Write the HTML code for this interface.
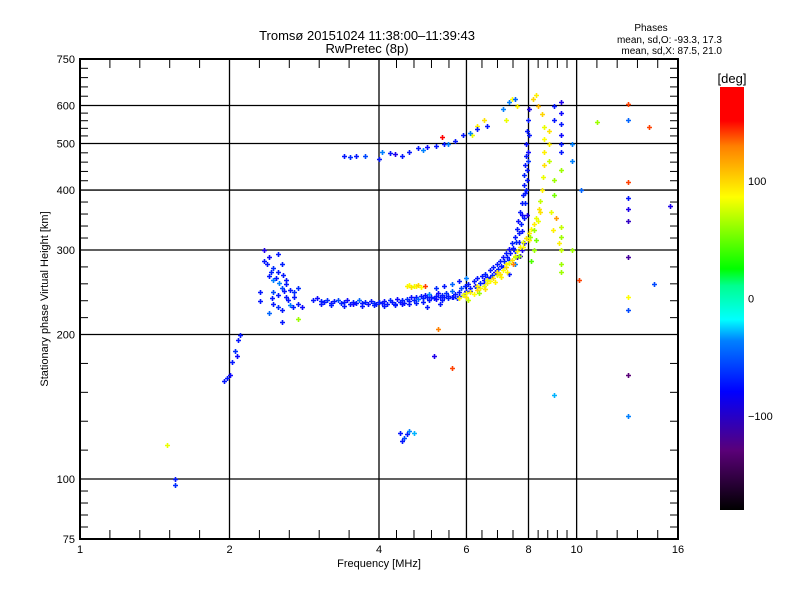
<!DOCTYPE html>
<html><head><meta charset="utf-8"><style>
body{margin:0;background:#fff;}
svg text{font-family:"Liberation Sans",sans-serif;fill:#000;}
</style></head><body>
<svg id="chart" xmlns="http://www.w3.org/2000/svg" width="800" height="600" viewBox="0 0 800 600">
<defs>
<linearGradient id="cmap" x1="0" y1="1" x2="0" y2="0">
<stop offset="0" stop-color="#000000"/>
<stop offset="0.14" stop-color="#5a0078"/>
<stop offset="0.28" stop-color="#0000ff"/>
<stop offset="0.40" stop-color="#0080ff"/>
<stop offset="0.45" stop-color="#00ffff"/>
<stop offset="0.53" stop-color="#00ff90"/>
<stop offset="0.57" stop-color="#00ff00"/>
<stop offset="0.74" stop-color="#ffff00"/>
<stop offset="0.86" stop-color="#ff8000"/>
<stop offset="0.92" stop-color="#ff0000"/>
<stop offset="1" stop-color="#ff0000"/>
</linearGradient>
</defs>
<g id="grid"></g>
<g id="marks"></g>
<rect x="80" y="59" width="598" height="480" fill="none" stroke="#000" stroke-width="2"/>
<g id="axes"></g>
<text x="367" y="40" font-size="13" text-anchor="middle">Tromsø 20151024 11:38:00–11:39:43</text>
<text x="367" y="53" font-size="13" text-anchor="middle">RwPretec (8p)</text>
<text x="651" y="31" font-size="10" text-anchor="middle">Phases</text>
<text x="722" y="43" font-size="10" text-anchor="end">mean, sd,O: -93.3, 17.3</text>
<text x="722" y="54" font-size="10" text-anchor="end">mean, sd,X:  87.5, 21.0</text>
<text x="379" y="567" font-size="11" text-anchor="middle">Frequency [MHz]</text>
<text x="0" y="0" font-size="11" text-anchor="middle" transform="translate(48,299) rotate(-90)">Stationary phase Virtual Height [km]</text>
<rect x="720" y="87" width="24" height="423" fill="url(#cmap)"/>
<text x="732" y="83" font-size="13" text-anchor="middle">[deg]</text>
<g id="cbar"></g>
</svg>
<script>
const xTickLabels=[1,2,4,6,8,10,16];
const xGridValues=[2,4,6,8,10];
const yTickLabels=[75,100,200,300,400,500,600,750];
const yGridValues=[100,200,300,400,500,600];
const cbarLabels=[100,0,-100];
// O-mode trace
const oFreq=[2.95,3.0,3.05,3.1,3.15,3.2,3.25,3.3,3.35,3.4,3.45,3.5,3.55,3.6,3.65,3.7,3.75,3.8,3.85,3.9,3.95,4.0,4.05,4.1,4.15,4.2,4.25,4.3,4.35,4.4,4.45,4.5,4.55,4.6,4.65,4.7,4.75,4.8,4.85,4.9,4.95,5.0,5.05,5.1,5.15,5.2,5.25,5.3,5.35,5.4,5.45,5.5,5.6,5.6,5.7,5.75,5.8,5.85,5.9,5.95,6.0,6.05,6.1,6.2,6.25,6.3,6.4,6.45,6.5,6.55,6.6,6.7,6.75,6.8,6.85,6.9,6.95,7.0,7.05,7.1,7.15,7.2,7.25,7.3,7.35,7.4,7.45,7.5,7.55,7.6,7.62,7.65,7.7,7.72,7.75,7.78,7.8,7.82,7.85,7.87,7.9,7.92,7.95,7.97,8.0,7.98,7.93,7.88,7.75,7.6,5.2,5.4,5.6,5.8,6.0];
const oHeight=[236,238,235,234,236,233,235,236,233,234,236,232,234,233,236,233,234,232,235,233,232,234,233,235,232,236,234,232,237,234,236,233,237,235,240,236,239,237,241,238,242,239,243,240,238,241,244,240,242,239,244,241,239,247,243,238,245,250,242,252,247,255,250,258,252,262,256,265,260,268,263,272,266,276,270,280,274,285,278,290,284,296,290,302,296,310,303,320,312,332,345,325,360,340,375,355,390,410,430,450,470,500,530,560,590,460,420,395,300,290,250,252,255,258,262];
const oPhase=[-100,-110,-95,-100,-90,-105,-100,-80,-95,-100,-110,-100,-95,-100,-70,-100,-95,-105,-100,-90,-100,-95,-100,-105,-100,-90,-100,-95,-110,-100,-95,-100,-90,-100,-105,-95,-100,-70,-100,-95,-105,-100,-60,-100,-95,-100,-110,-100,-95,-100,-90,-100,-105,-70,-100,-95,-100,-80,-100,-95,-100,-100,-95,-100,-110,-100,-90,-100,-105,-95,-100,-100,-90,-100,-110,-100,-95,-100,-100,-105,-95,-100,-100,-110,-100,-95,-100,-100,-90,-100,-105,-100,-100,-95,-100,-110,-100,-100,-95,-100,-100,-105,-100,-100,-120,-90,-100,-100,-120,-130,-90,-100,-70,-100,-60];
// O-mode trace, second echo band (thickening)
const o2Freq=[3.05,3.2,3.4,3.55,3.7,3.9,4.1,4.3,4.45,4.6,4.75,4.9,5.05,5.2,5.35,5.5,5.65,5.8,5.95,6.1,6.3,6.5,6.7,6.9,7.1,7.3,7.5,7.65,7.75,7.82,7.88,7.92,7.96,7.99,8.0,7.95,7.85,7.7,7.5,7.3,5.0,5.3];
const o2Height=[231,230,229,231,229,230,229,230,232,231,233,234,236,237,236,238,240,241,244,246,251,256,262,268,276,286,298,312,328,350,375,400,440,480,520,355,310,292,280,268,228,232];
const o2Phase=[-100,-95,-100,-110,-100,-95,-100,-100,-105,-100,-95,-100,-100,-110,-100,-95,-100,-100,-105,-100,-95,-100,-100,-110,-100,-95,-100,-100,-105,-100,-95,-100,-100,-110,-100,-120,-110,-130,-60,-100,-100,-100];
// X-mode trace
const xFreq=[5.8,5.9,6.0,6.05,6.1,6.2,6.3,6.35,6.4,6.5,6.55,6.6,6.7,6.8,6.85,6.9,7.0,7.05,7.1,7.2,7.25,7.3,7.4,7.45,7.5,7.6,7.65,7.7,7.8,7.9,8.0,8.05,8.1,8.2,8.3,8.4,8.45,8.5,8.55,8.6,8.6,8.6,8.6,8.5,8.35,8.3,8.15,8.2,8.3,8.1,4.55,4.6,4.65,4.7,4.75,4.8,4.85,4.95,6.15,6.3,6.5,7.2,7.4,7.6,6.0,6.3,6.6,6.9,7.2,7.5,7.8,8.0,8.2,8.35,8.45];
const xHeight=[238,242,240,236,245,243,248,244,250,253,249,256,258,262,257,266,268,263,273,276,270,282,286,280,292,298,292,305,312,318,325,320,332,340,350,365,380,400,425,450,480,510,540,575,600,630,620,300,315,285,252,254,251,253,252,254,251,253,520,545,560,560,620,600,244,252,260,270,280,290,305,315,330,345,360];
const xPhase=[90,80,95,70,90,85,100,60,90,80,95,90,85,100,90,80,95,90,85,100,90,80,95,130,90,85,60,90,80,95,90,60,85,90,80,95,70,90,80,95,90,85,80,100,110,90,100,60,50,40,90,85,95,80,90,100,85,140,80,90,95,80,85,90,85,90,80,95,90,70,85,90,60,80,95];
// spread F near 2.5 MHz and low-frequency echoes
const sFreq=[2.35,2.4,2.45,2.5,2.4,2.45,2.5,2.55,2.6,2.55,2.65,2.7,2.6,2.5,2.45,2.5,2.55,2.65,2.7,2.75,2.3,2.3,2.75,2.8,2.4,2.55,2.35,2.6,2.45,2.38,2.42,2.48,2.52,2.58,2.62,2.68,2.44,2.56,1.95,2.0,2.02,2.05,2.08,2.1,2.07,1.98,1.5,1.55,1.55,4.4,4.5,4.55,4.6,4.7,4.45];
const sHeight=[285,290,275,295,265,260,270,280,255,250,248,245,240,242,232,228,225,230,240,250,235,245,232,228,222,212,300,260,245,280,270,262,256,246,236,228,238,266,160,165,175,185,195,200,180,162,118,100,97,125,122,124,126,125,120];
const sPhase=[-100,-110,-90,-100,-100,-60,-100,-95,-100,-80,-100,-90,-100,-100,-100,-90,-100,-60,-100,-90,-100,-100,-100,-110,-70,-100,-120,-100,-80,-100,-95,-100,-60,-100,-100,-95,-100,-100,-100,-110,-100,-90,-100,-100,-110,-100,80,-100,-90,-100,-80,-100,-60,-50,-100];
// upper (second-hop) trace
const uFreq=[3.4,3.5,3.6,3.75,4.0,4.05,4.2,4.3,4.45,4.6,4.8,4.9,5.0,5.2,5.4,5.5,5.7,5.9,6.1,6.3,6.6,7.1,7.3,7.5];
const uHeight=[470,468,472,470,465,480,478,475,470,480,490,485,492,495,500,498,505,520,525,535,545,590,610,620];
const uPhase=[-100,-90,-100,-80,-100,-60,-100,-120,-100,-100,-100,-60,-110,-100,-100,-60,-100,-100,-60,-100,-100,-60,-60,-70];
// scattered echoes
const mFreq=[5.15,5.25,5.6,2.75,10.1,9.0,9.3,9.3,9.3,9.3,9.3,9.3,9.3,9.3,9.3,9.3,9.3,9.3,9.8,9.8,9.8,10.2,11,12.7,12.7,12.7,12.7,12.7,12.7,12.7,12.7,12.7,12.7,12.7,14,14.3,15.4,9.0,9.0,9.0,9.0,8.9,8.95,9.1,9.2,8.8,8.8,8.8,5.35];
const mHeight=[180,205,170,215,260,150,610,580,550,520,500,480,440,300,320,335,280,270,500,460,300,400,555,605,560,415,385,365,345,290,240,225,165,135,540,255,370,420,390,600,560,360,330,350,310,460,500,530,517];
const mPhase=[-120,130,140,60,140,-50,-120,-110,-100,-110,-100,-100,60,70,60,70,60,60,-60,-60,60,-70,60,140,-70,140,-100,-120,-130,-140,85,-80,-150,-60,140,-80,-120,60,50,-100,-100,80,90,120,90,70,90,95,160];

const NS='http://www.w3.org/2000/svg';
const X0=80,X1=678,Y0=59,Y1=539;
function xs(f){return X0+(X1-X0)*Math.log2(f)/4;}
function ys(h){return Y1-(Y1-Y0)*Math.log10(h/75);}
function mk(tag,attrs,parent){const e=document.createElementNS(NS,tag);for(const k in attrs)e.setAttribute(k,attrs[k]);parent.appendChild(e);return e;}
const cstops=[[-180,0,0,0],[-150,90,0,120],[-115,20,0,255],[-95,0,30,255],[-60,0,128,255],[-35,0,255,255],[0,0,255,144],[20,0,255,0],[85,255,255,0],[130,255,128,0],[150,255,0,0],[180,255,0,0]];
function color(p){for(let i=1;i<cstops.length;i++){if(p<=cstops[i][0]){const a=cstops[i-1],b=cstops[i];const t=(p-a[0])/(b[0]-a[0]);return 'rgb('+[1,2,3].map(j=>Math.round(a[j]+(b[j]-a[j])*t)).join(',')+')';}}return 'rgb(255,0,0)';}
const grid=document.getElementById('grid'),axes=document.getElementById('axes'),marks=document.getElementById('marks'),cbar=document.getElementById('cbar');
xGridValues.forEach(v=>{const l=mk('line',{x1:xs(v),x2:xs(v),y1:Y0,y2:Y1,stroke:'#000','stroke-width':1.3},grid);

});
yGridValues.forEach(v=>{const l=mk('line',{x1:X0,x2:X1,y1:ys(v),y2:ys(v),stroke:'#000','stroke-width':1.3},grid);

});
xTickLabels.forEach(v=>{const t=mk('text',{x:xs(v),y:553,'font-size':11,'text-anchor':'middle'},axes);t.textContent=v;

});
yTickLabels.forEach(v=>{const t=mk('text',{x:75,y:ys(v)+4,'font-size':11,'text-anchor':'end'},axes);t.textContent=v;

});
const xDiv=[[1,2,5],[2,4,5],[4,6,5],[6,8,4],[8,10,5],[10,16,5]];
xDiv.forEach(([a,b,n])=>{const pa=xs(a),pb=xs(b);for(let i=1;i<n;i++){const x=pa+(pb-pa)*i/n;
mk('line',{x1:x,x2:x,y1:Y1,y2:Y1-9,stroke:'#000','stroke-width':1},axes);
mk('line',{x1:x,x2:x,y1:Y0,y2:Y0+9,stroke:'#000','stroke-width':1},axes);}});
const yDiv=[[75,100,5],[100,200,5],[200,300,5],[300,400,5],[400,500,5],[500,600,5],[600,750,5]];
yDiv.forEach(([a,b,n])=>{const pa=ys(a),pb=ys(b);for(let i=1;i<n;i++){const y=pa+(pb-pa)*i/n;
mk('line',{x1:X0,x2:X0+8,y1:y,y2:y,stroke:'#000','stroke-width':1},axes);
mk('line',{x1:X1,x2:X1-8,y1:y,y2:y,stroke:'#000','stroke-width':1},axes);}});
function plot(F,H,P,name){for(let i=0;i<F.length;i++){const x=Math.round(xs(F[i])),y=Math.round(ys(H[i])),c=color(P[i]);
const g=mk('path',{d:'M'+(x-2)+' '+(y+0.5)+'h5M'+(x+0.5)+' '+(y-2)+'v5',stroke:c,'stroke-width':1.6},marks);

}}
plot(oFreq,oHeight,oPhase,'o-trace-point');
plot(o2Freq,o2Height,o2Phase,'o-trace-point');
plot(xFreq,xHeight,xPhase,'x-trace-point');
plot(sFreq,sHeight,sPhase,'spread-echo-point');
plot(uFreq,uHeight,uPhase,'upper-trace-point');
plot(mFreq,mHeight,mPhase,'scatter-echo-point');
cbarLabels.forEach(v=>{const y=87+(180-v)*423/360;
const t=mk('text',{x:748,y:y+4,'font-size':11},cbar);t.textContent=v===-100?'−100':v;

});
</script>
</body></html>
